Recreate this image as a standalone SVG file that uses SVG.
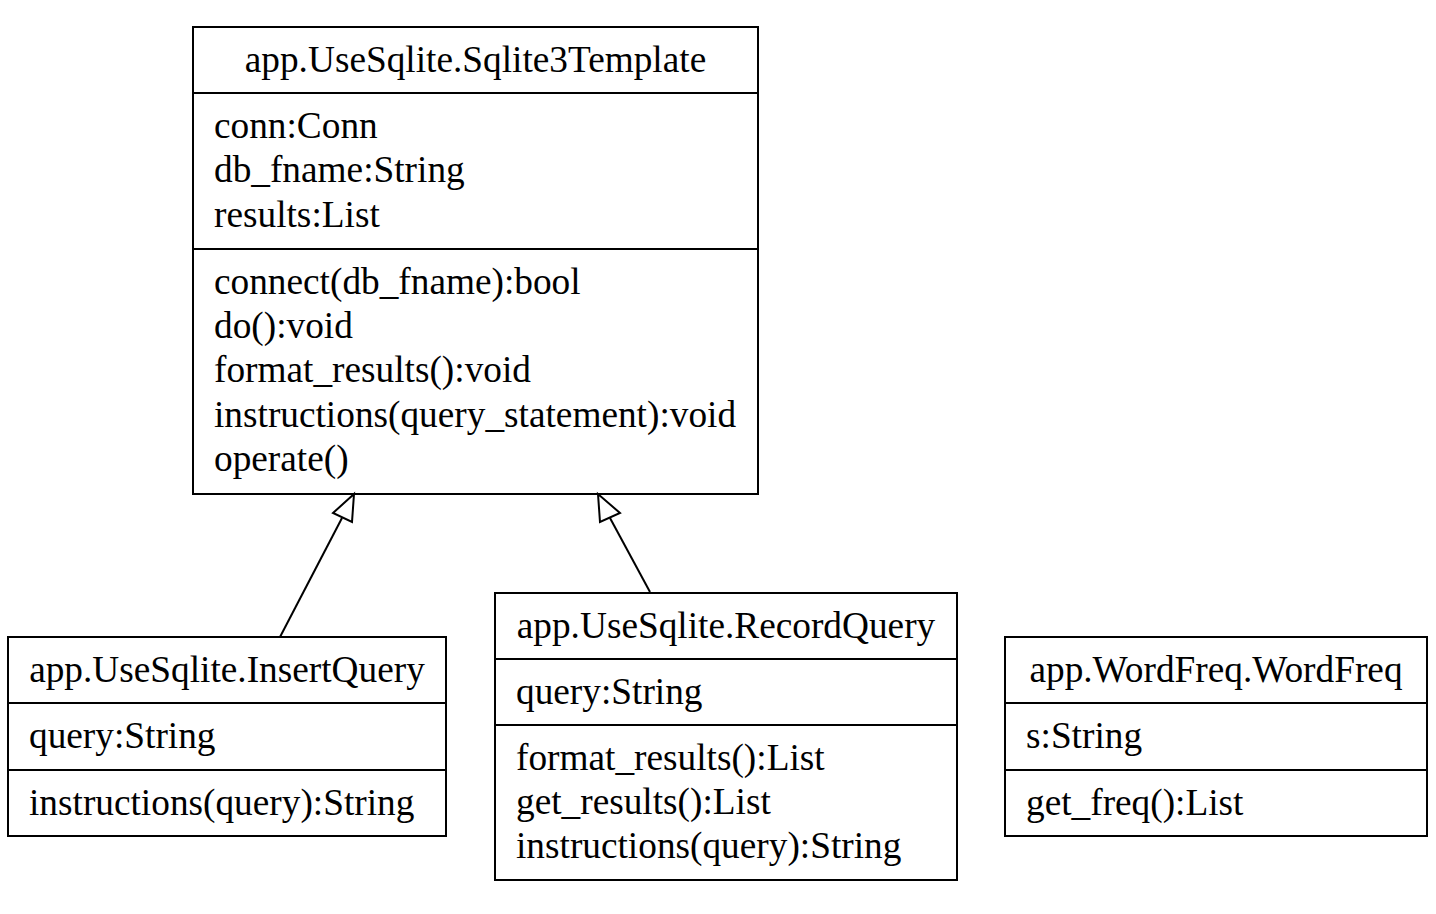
<svg xmlns="http://www.w3.org/2000/svg" width="1436" height="914" viewBox="0 0 1436 914">
<style>
.box{fill:#fff;stroke:#000;stroke-width:2}
.sep{stroke:#000;stroke-width:2}
text{font-family:"Liberation Serif","Times New Roman",serif;font-size:37.3px;fill:#000}
.t{text-anchor:middle}
.edge{stroke:#000;stroke-width:2;fill:none}
.head{fill:#fff;stroke:#000;stroke-width:2}
</style>
<rect width="1436" height="914" fill="#fff"/>
<g id="Sqlite3Template">
<rect class="box" x="193" y="27" width="565" height="467"/>
<line class="sep" x1="193" y1="93" x2="758" y2="93"/>
<line class="sep" x1="193" y1="249" x2="758" y2="249"/>
<text class="t" x="475.5" y="72">app.UseSqlite.Sqlite3Template</text>
<text x="214" y="138">conn:Conn</text>
<text x="214" y="182">db_fname:String</text>
<text x="214" y="227">results:List</text>
<text x="214" y="294">connect(db_fname):bool</text>
<text x="214" y="338">do():void</text>
<text x="214" y="382">format_results():void</text>
<text x="214" y="427">instructions(query_statement):void</text>
<text x="214" y="471">operate()</text>
</g>
<g id="InsertQuery">
<rect class="box" x="8" y="637" width="438" height="199"/>
<line class="sep" x1="8" y1="703" x2="446" y2="703"/>
<line class="sep" x1="8" y1="770" x2="446" y2="770"/>
<text class="t" x="227" y="682">app.UseSqlite.InsertQuery</text>
<text x="29" y="748">query:String</text>
<text x="29" y="815">instructions(query):String</text>
</g>
<g id="RecordQuery">
<rect class="box" x="495" y="593" width="462" height="287"/>
<line class="sep" x1="495" y1="659" x2="957" y2="659"/>
<line class="sep" x1="495" y1="725" x2="957" y2="725"/>
<text class="t" x="726" y="638">app.UseSqlite.RecordQuery</text>
<text x="516" y="704">query:String</text>
<text x="516" y="770">format_results():List</text>
<text x="516" y="814">get_results():List</text>
<text x="516" y="858">instructions(query):String</text>
</g>
<g id="WordFreq">
<rect class="box" x="1005" y="637" width="422" height="199"/>
<line class="sep" x1="1005" y1="703" x2="1427" y2="703"/>
<line class="sep" x1="1005" y1="770" x2="1427" y2="770"/>
<text class="t" x="1216" y="682">app.WordFreq.WordFreq</text>
<text x="1026" y="748">s:String</text>
<text x="1026" y="815">get_freq():List</text>
</g>
<g id="connectors">
<path class="edge" d="M280,637 L342,518"/>
<polygon class="head" points="354,494 333,513 352,522"/>
<path class="edge" d="M650,592 L610,518"/>
<polygon class="head" points="598,494 600,522 620,513"/>
</g>
</svg>
